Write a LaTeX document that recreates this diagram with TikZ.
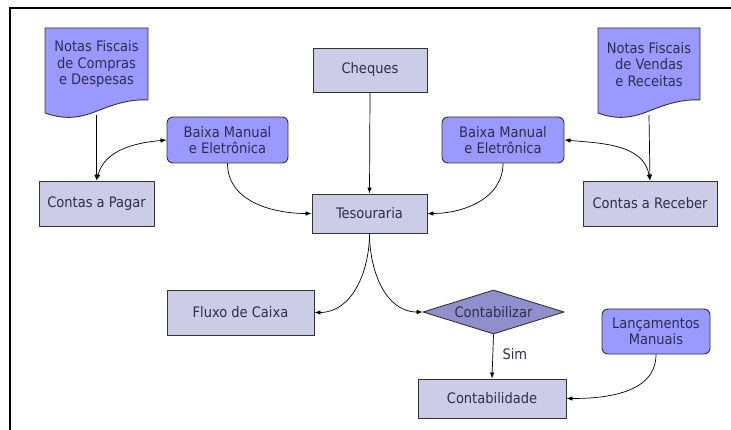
\documentclass[tikz,border=0pt]{standalone}
\usepackage{fontspec}
\setmainfont{DejaVu Sans Condensed}
\usetikzlibrary{shapes.geometric,arrows.meta}
\definecolor{lightbox}{RGB}{204,204,230}
\definecolor{bluebox}{RGB}{153,153,255}
\definecolor{diamfill}{RGB}{143,143,204}
\definecolor{txt}{RGB}{45,45,80}
\definecolor{edgecol}{RGB}{50,50,50}
\begin{document}
\begin{tikzpicture}[x=1pt,y=-1pt,
  font=\fontsize{14.5}{16.5}\selectfont,
  base/.style={draw=edgecol,line width=0.9pt,text=txt,align=center,inner sep=0pt},
  plainbox/.style={base,fill=lightbox,rectangle},
  roundbox/.style={base,fill=bluebox,rectangle,rounded corners=6pt},
  docshape/.style={draw=edgecol,line width=0.9pt,fill=bluebox},
  doctext/.style={text=txt,align=center,inner sep=0pt,minimum width=103pt,minimum height=87pt},
  decision/.style={base,fill=diamfill,diamond,aspect=3.2},
  conn/.style={draw=black,line width=0.7pt,-{Latex[length=6pt,width=4.5pt]}},
  dconn/.style={draw=black,line width=0.7pt,{Latex[length=6pt,width=4.5pt]}-{Latex[length=6pt,width=4.5pt]}}]
\useasboundingbox (0,0) rectangle (731,430);
% frame
\draw[line width=2.5pt] (10,430) -- (10,8.2) -- (731,8.2);
% document shapes
\draw[docshape] (45,28) -- (148,28) -- (148,100)
  .. controls (130,99) and (115,104) .. (97,111)
  .. controls (80,118) and (65,120) .. (45,113) -- cycle;
\node[doctext] (ncf) at (96.5,71.5) {};
\node[text=txt,align=center] at (96.5,64.5) {Notas Fiscais\\de Compras\\e Despesas};
\draw[docshape] (598,28) -- (700,28) -- (700,100)
  .. controls (682,99) and (667,104) .. (649,111)
  .. controls (632,118) and (617,120) .. (598,113) -- cycle;
\node[doctext] (ncv) at (649,71.5) {};
\node[text=txt,align=center] at (649,64.5) {Notas Fiscais\\de Vendas\\e Receitas};
% boxes
\node[plainbox,minimum width=114pt,minimum height=44pt] (ch) at (370,70) {Cheques};
\node[roundbox,minimum width=121pt,minimum height=46pt] (bl) at (227.5,140) {Baixa Manual\\e Eletrônica};
\node[roundbox,minimum width=122pt,minimum height=46pt] (br) at (503,140) {Baixa Manual\\e Eletrônica};
\node[plainbox,minimum width=115pt,minimum height=45pt] (cp) at (96.5,203.5) {Contas a Pagar};
\node[plainbox,minimum width=115pt,minimum height=39pt] (tes) at (369.5,213.5) {Tesouraria};
\node[plainbox,minimum width=134pt,minimum height=45pt] (cr) at (650,203.5) {Contas a Receber};
\node[plainbox,minimum width=147pt,minimum height=45pt] (fc) at (240.5,312.5) {Fluxo de Caixa};
\node[decision,minimum width=141pt,minimum height=44pt] (cont) at (493.5,312) {Contabilizar};
\node[roundbox,minimum width=108pt,minimum height=45pt] (lm) at (656,331.5) {Lançamentos\\Manuais};
\node[plainbox,minimum width=148pt,minimum height=39pt] (cb) at (492,398.5) {Contabilidade};
% connectors
\draw[conn] (ncf.south) -- (cp.north);
\draw[dconn] (cp.north) to[out=75,in=185] (bl.west);
\draw[conn] (bl.south) to[out=-90,in=180] (tes.west);
\draw[conn] (ch.south) -- (tes.north);
\draw[conn] (br.south) to[out=-90,in=0] (tes.east);
\draw[conn] (ncv.south) -- (cr.north);
\draw[dconn] (cr.north) to[out=100,in=-5] (br.east);
\draw[conn] (tes.south) to[out=-90,in=0] (fc.east);
\draw[conn] (tes.south) to[out=-90,in=180] (cont.west);
\draw[conn] (cont.south) -- node[right=6pt,text=txt,pos=0.45] {Sim} (cb.north);
\draw[conn] (lm.south) to[out=-90,in=0] (cb.east);
\end{tikzpicture}
\end{document}
